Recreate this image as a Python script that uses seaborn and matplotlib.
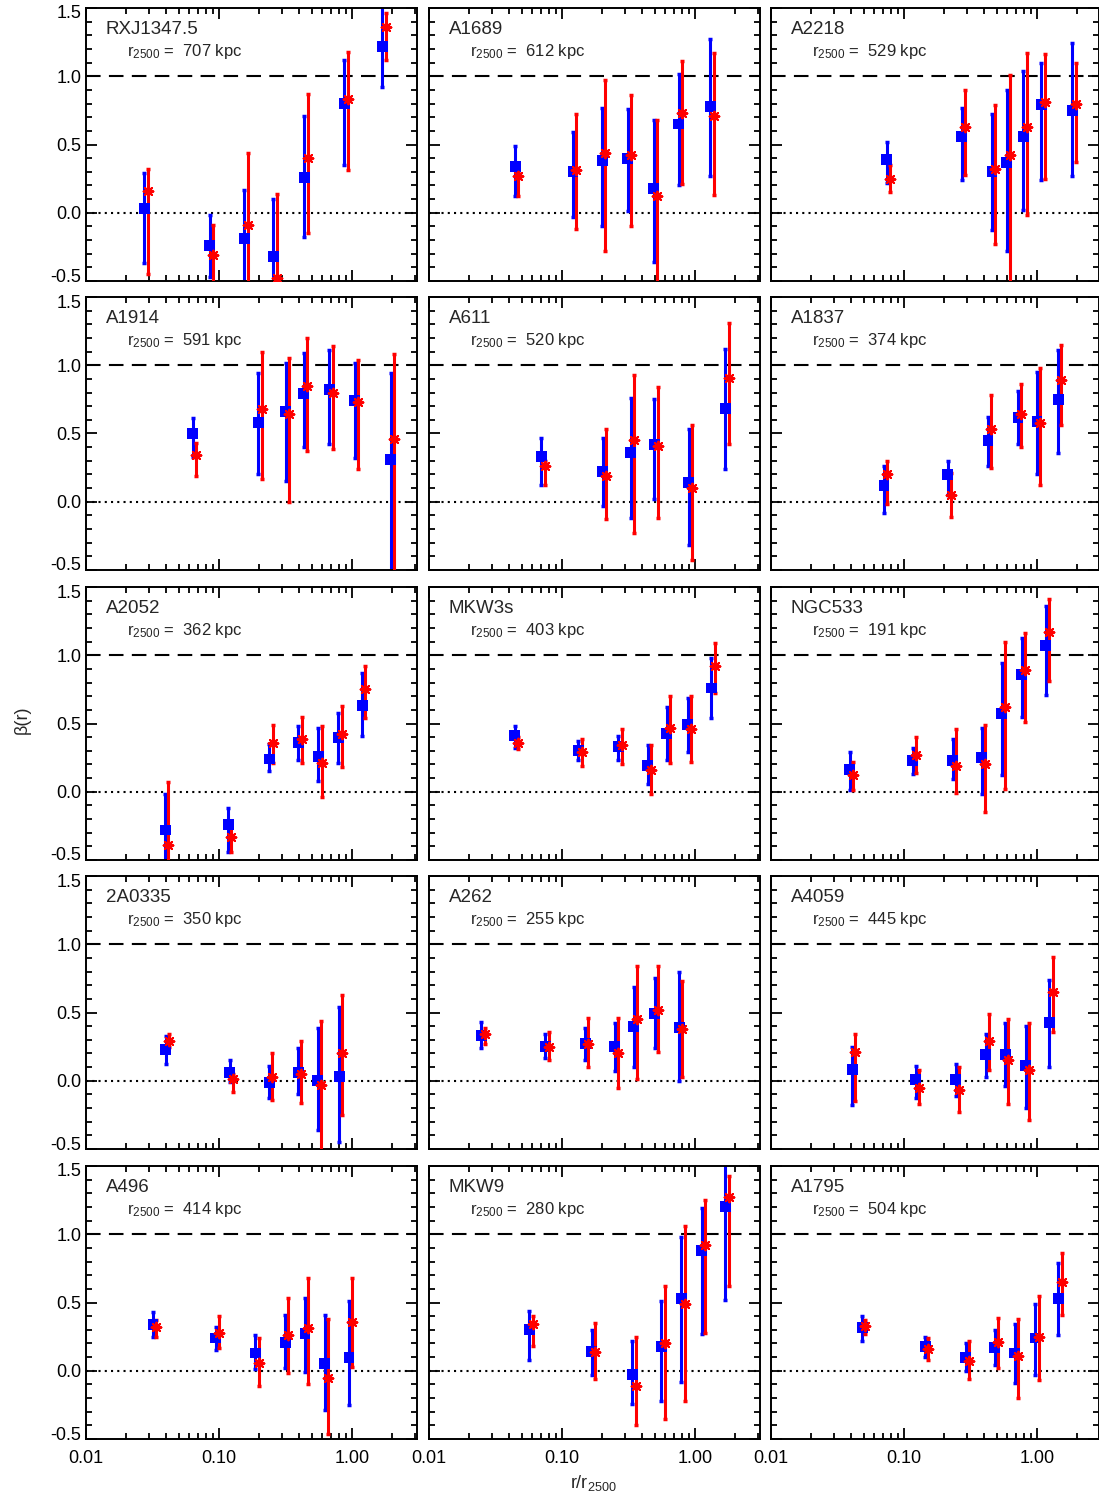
import numpy as np
import seaborn as sns
import matplotlib
matplotlib.use("Agg")
import matplotlib.pyplot as plt
import matplotlib.transforms as mtransforms
from matplotlib.ticker import FixedLocator, MultipleLocator, LogLocator, NullFormatter

# cluster names and r2500 in kpc
names = ["RXJ1347.5", "A1689", "A2218",
         "A1914", "A611", "A1837",
         "A2052", "MKW3s", "NGC533",
         "2A0335", "A262", "A4059",
         "A496", "MKW9", "A1795"]
r2500 = [707, 612, 529, 591, 520, 374, 362, 403, 191, 350, 255, 445, 414, 280, 504]

# radius r/r2500 of each bin
rad = [
    [0.0274, 0.0855, 0.155, 0.256, 0.437, 0.878, 1.69],
    [0.0444, 0.121, 0.200, 0.313, 0.490, 0.754, 1.30],
    [0.0741, 0.271, 0.459, 0.594, 0.789, 1.08, 1.84],
    [0.0636, 0.197, 0.318, 0.433, 0.675, 1.05, 1.96],
    [0.0698, 0.202, 0.328, 0.495, 0.894, 1.69],
    [0.0707, 0.214, 0.428, 0.720, 1.00, 1.44],
    [0.0393, 0.117, 0.239, 0.395, 0.558, 0.789, 1.19],
    [0.0441, 0.133, 0.265, 0.440, 0.611, 0.881, 1.33],
    [0.0391, 0.116, 0.232, 0.385, 0.543, 0.770, 1.16],
    [0.0399, 0.120, 0.238, 0.393, 0.554, 0.80],
    [0.0247, 0.0747, 0.149, 0.249, 0.346, 0.499, 0.759],
    [0.0407, 0.123, 0.245, 0.412, 0.575, 0.822, 1.24],
    [0.0319, 0.0942, 0.187, 0.314, 0.443, 0.624, 0.949],
    [0.0567, 0.167, 0.338, 0.558, 0.787, 1.12, 1.69],
    [0.0484, 0.144, 0.292, 0.481, 0.680, 0.972, 1.45],
]

# blue: beta, upper, lower
beta_b = [
    [0.03, -0.24, -0.19, -0.32, 0.26, 0.80, 1.22],
    [0.34, 0.30, 0.38, 0.40, 0.18, 0.65, 0.78],
    [0.39, 0.56, 0.30, 0.37, 0.56, 0.79, 0.75],
    [0.50, 0.58, 0.66, 0.79, 0.82, 0.74, 0.31],
    [0.33, 0.22, 0.36, 0.42, 0.14, 0.68],
    [0.12, 0.20, 0.45, 0.62, 0.59, 0.75],
    [-0.28, -0.24, 0.24, 0.36, 0.26, 0.40, 0.63],
    [0.41, 0.30, 0.33, 0.19, 0.43, 0.49, 0.76],
    [0.16, 0.23, 0.23, 0.25, 0.57, 0.86, 1.07],
    [0.23, 0.06, -0.01, 0.06, 0.00, 0.03],
    [0.33, 0.25, 0.27, 0.25, 0.40, 0.49, 0.39],
    [0.08, 0.01, 0.01, 0.19, 0.19, 0.11, 0.43],
    [0.34, 0.24, 0.13, 0.21, 0.27, 0.05, 0.10],
    [0.30, 0.14, -0.03, 0.18, 0.53, 0.88, 1.20],
    [0.32, 0.18, 0.10, 0.17, 0.13, 0.24, 0.53],
]
hi_b = [
    [0.29, -0.02, 0.17, 0.10, 0.71, 1.12, 1.60],
    [0.49, 0.59, 0.77, 0.76, 0.68, 1.02, 1.27],
    [0.52, 0.77, 0.72, 0.90, 1.04, 1.10, 1.24],
    [0.61, 0.94, 1.02, 1.09, 1.11, 1.02, 0.94],
    [0.47, 0.47, 0.76, 0.75, 0.53, 1.12],
    [0.26, 0.30, 0.62, 0.81, 0.95, 1.11],
    [-0.02, -0.12, 0.35, 0.48, 0.47, 0.58, 0.87],
    [0.48, 0.37, 0.41, 0.34, 0.62, 0.69, 0.98],
    [0.29, 0.32, 0.39, 0.47, 0.94, 1.13, 1.36],
    [0.33, 0.15, 0.11, 0.24, 0.39, 0.54],
    [0.43, 0.34, 0.39, 0.42, 0.69, 0.75, 0.80],
    [0.25, 0.11, 0.12, 0.34, 0.42, 0.40, 0.74],
    [0.43, 0.32, 0.26, 0.41, 0.53, 0.41, 0.51],
    [0.44, 0.30, 0.22, 0.51, 0.98, 1.19, 1.60],
    [0.40, 0.25, 0.20, 0.30, 0.34, 0.49, 0.79],
]
lo_b = [
    [-0.37, -0.47, -0.60, -0.60, -0.18, 0.35, 0.92],
    [0.12, -0.03, -0.10, 0.01, -0.36, 0.20, 0.27],
    [0.22, 0.24, -0.13, -0.28, 0.02, 0.24, 0.27],
    [0.33, 0.20, 0.15, 0.40, 0.42, 0.32, -0.60],
    [0.12, -0.03, -0.12, 0.02, -0.32, 0.24],
    [-0.08, 0.05, 0.26, 0.42, 0.20, 0.36],
    [-0.60, -0.44, 0.15, 0.23, 0.08, 0.21, 0.41],
    [0.32, 0.23, 0.23, 0.06, 0.23, 0.29, 0.54],
    [0.01, 0.13, 0.09, -0.02, 0.12, 0.55, 0.71],
    [0.12, -0.01, -0.13, -0.10, -0.36, -0.45],
    [0.24, 0.17, 0.15, 0.07, 0.10, 0.24, 0.00],
    [-0.18, -0.13, -0.11, 0.03, -0.04, -0.20, 0.10],
    [0.25, 0.15, 0.01, 0.02, -0.01, -0.29, -0.25],
    [0.08, -0.03, -0.24, -0.22, -0.08, 0.27, 0.52],
    [0.22, 0.10, 0.00, 0.04, -0.09, -0.03, 0.26],
]

# red: beta, upper, lower
beta_r = [
    [0.16, -0.31, -0.09, -0.48, 0.40, 0.83, 1.36],
    [0.27, 0.31, 0.44, 0.42, 0.12, 0.73, 0.71],
    [0.25, 0.63, 0.32, 0.42, 0.63, 0.81, 0.80],
    [0.34, 0.68, 0.64, 0.85, 0.80, 0.73, 0.46],
    [0.26, 0.19, 0.45, 0.41, 0.10, 0.91],
    [0.20, 0.05, 0.53, 0.64, 0.58, 0.89],
    [-0.39, -0.33, 0.36, 0.39, 0.21, 0.42, 0.75],
    [0.36, 0.29, 0.34, 0.16, 0.47, 0.46, 0.92],
    [0.12, 0.27, 0.19, 0.20, 0.62, 0.89, 1.17],
    [0.29, 0.01, 0.03, 0.05, -0.03, 0.20],
    [0.34, 0.25, 0.27, 0.20, 0.45, 0.52, 0.38],
    [0.21, -0.05, -0.07, 0.29, 0.15, 0.08, 0.65],
    [0.32, 0.28, 0.06, 0.26, 0.31, -0.05, 0.36],
    [0.34, 0.14, -0.11, 0.20, 0.49, 0.92, 1.27],
    [0.33, 0.16, 0.07, 0.21, 0.11, 0.25, 0.65],
]
hi_r = [
    [0.32, -0.09, 0.44, 0.14, 0.87, 1.18, 1.46],
    [0.30, 0.72, 0.97, 0.86, 0.68, 1.11, 1.17],
    [0.35, 0.90, 0.79, 1.01, 1.17, 1.16, 1.10],
    [0.43, 1.10, 1.05, 1.20, 1.14, 1.04, 1.08],
    [0.30, 0.53, 0.93, 0.84, 0.56, 1.31],
    [0.30, 0.21, 0.78, 0.86, 0.98, 1.15],
    [0.07, -0.24, 0.49, 0.55, 0.48, 0.63, 0.92],
    [0.40, 0.39, 0.46, 0.34, 0.70, 0.70, 1.09],
    [0.22, 0.40, 0.46, 0.49, 1.10, 1.16, 1.41],
    [0.34, 0.05, 0.20, 0.29, 0.44, 0.63],
    [0.39, 0.36, 0.46, 0.46, 0.84, 0.84, 0.73],
    [0.34, 0.08, 0.10, 0.49, 0.45, 0.42, 0.91],
    [0.37, 0.40, 0.24, 0.53, 0.68, 0.38, 0.68],
    [0.40, 0.35, 0.25, 0.62, 1.06, 1.25, 1.43],
    [0.37, 0.24, 0.22, 0.39, 0.38, 0.55, 0.86],
]
lo_r = [
    [-0.45, -0.60, -0.60, -0.60, -0.15, 0.31, 1.12],
    [0.12, -0.12, -0.28, -0.10, -0.60, 0.21, 0.13],
    [0.15, 0.28, -0.23, -0.60, -0.02, 0.25, 0.37],
    [0.19, 0.17, 0.00, 0.37, 0.39, 0.24, -0.60],
    [0.12, -0.13, -0.23, -0.12, -0.43, 0.42],
    [-0.02, -0.11, 0.25, 0.40, 0.12, 0.56],
    [-0.60, -0.44, 0.21, 0.21, -0.04, 0.18, 0.54],
    [0.31, 0.19, 0.20, -0.02, 0.21, 0.22, 0.72],
    [0.01, 0.14, -0.01, -0.15, 0.02, 0.51, 0.81],
    [0.25, -0.08, -0.14, -0.16, -0.60, -0.25],
    [0.27, 0.15, 0.10, -0.05, 0.01, 0.21, 0.03],
    [-0.15, -0.17, -0.23, 0.08, -0.17, -0.29, 0.36],
    [0.25, 0.17, -0.11, -0.02, -0.10, -0.46, 0.03],
    [0.18, -0.06, -0.40, -0.35, -0.22, 0.28, 0.62],
    [0.27, 0.08, -0.06, 0.02, -0.20, -0.07, 0.41],
]

# red points are drawn slightly to the right of the blue ones
red_shift = 1.06

sns.set_theme(style="ticks")
plt.rcParams["font.family"] = ["Liberation Sans", "DejaVu Sans"]
plt.rcParams["mathtext.fontset"] = "custom"
plt.rcParams["mathtext.rm"] = "Liberation Sans"
plt.rcParams["mathtext.it"] = "Liberation Sans"
plt.rcParams["mathtext.default"] = "rm"

W, H = 1099, 1499
fig = plt.figure(figsize=(W / 100, H / 100), dpi=100)

col_left = [86, 429, 771]
col_width = [331, 331, 328]
row_top = [8, 297, 587, 876, 1166]
row_h = 273
decade_px = 133.0

for i, name in enumerate(names):
    row, col = divmod(i, 3)
    l, w, t = col_left[col], col_width[col], row_top[row]
    ax = fig.add_axes([l / W, 1 - (t + row_h) / H, w / W, row_h / H])
    ax.set_xscale("log")
    ax.set_xlim(0.01, 10 ** (w / decade_px - 2))
    ax.set_ylim(-0.5, 1.5)

    ax.axhline(1.0, color="black", lw=1.5, ls=(0, (7, 4)), zorder=1)
    ax.axhline(0.0, color="black", lw=1.5, ls=(0, (1, 2)), zorder=1)

    x = np.array(rad[i])
    xb = x
    xr = x * red_shift
    yb, yr = np.array(beta_b[i]), np.array(beta_r[i])
    eb = [yb - np.array(lo_b[i]), np.array(hi_b[i]) - yb]
    er = [yr - np.array(lo_r[i]), np.array(hi_r[i]) - yr]

    ax.errorbar(xb, yb, yerr=eb, fmt="none", ecolor="blue", elinewidth=2.2,
                capsize=1.2, capthick=2.5, zorder=2)
    ax.errorbar(xr, yr, yerr=er, fmt="none", ecolor="red", elinewidth=2.2,
                capsize=1.2, capthick=2.5, zorder=3)
    sns.scatterplot(x=xb, y=yb, marker="s", color="blue", s=62,
                    edgecolor="none", ax=ax, zorder=4)
    sns.scatterplot(x=xr, y=yr, marker=(8, 2, 0), color="red", s=48,
                    linewidth=1.5, ax=ax, zorder=5)

    ax.text(0.06, 0.92, name, transform=ax.transAxes, fontsize=13.5,
            ha="left", va="center")
    ax.text(0.124, 0.842, "r$_{2500}$ =  %d kpc" % r2500[i],
            transform=ax.transAxes, fontsize=12, ha="left", va="center")

    ax.xaxis.set_major_locator(FixedLocator([0.01, 0.1, 1.0]))
    ax.xaxis.set_minor_locator(LogLocator(base=10, subs=np.arange(2, 10)))
    ax.xaxis.set_minor_formatter(NullFormatter())
    ax.yaxis.set_major_locator(MultipleLocator(0.5))
    ax.yaxis.set_minor_locator(MultipleLocator(0.1))
    ax.tick_params(which="both", direction="in", top=True, right=True,
                   width=1.3, colors="black", labelsize=13)
    ax.tick_params(which="major", length=8)
    ax.tick_params(which="minor", length=4)
    for sp in ax.spines.values():
        sp.set_linewidth(1.4)
        sp.set_color("black")

    if row == 4:
        ax.set_xticklabels(["0.01", "0.10", "1.00"])
        ax.tick_params(axis="x", pad=8)
    else:
        ax.set_xticklabels([])
    if col == 0:
        ax.set_yticks([-0.5, 0.0, 0.5, 1.0, 1.5])
        labs = ax.set_yticklabels(["-0.5", "0.0", "0.5", "1.0", "1.5"])
        # keep the end labels inside the panel height, as in the original
        labs[0].set_transform(labs[0].get_transform() +
                              mtransforms.ScaledTranslation(0, 6 / 100, fig.dpi_scale_trans))
        labs[-1].set_transform(labs[-1].get_transform() +
                               mtransforms.ScaledTranslation(0, -4 / 100, fig.dpi_scale_trans))
    else:
        ax.set_yticklabels([])
    ax.set_xlabel("")
    ax.set_ylabel("")

fig.text(22 / W, 1 - 720 / H, "β(r)", rotation=90, ha="center", va="center",
         fontsize=13)
fig.text(593 / W, 1 - 1483 / H, "r/r$_{2500}$", ha="center", va="center",
         fontsize=13)

fig.savefig("out.png", dpi=100)
